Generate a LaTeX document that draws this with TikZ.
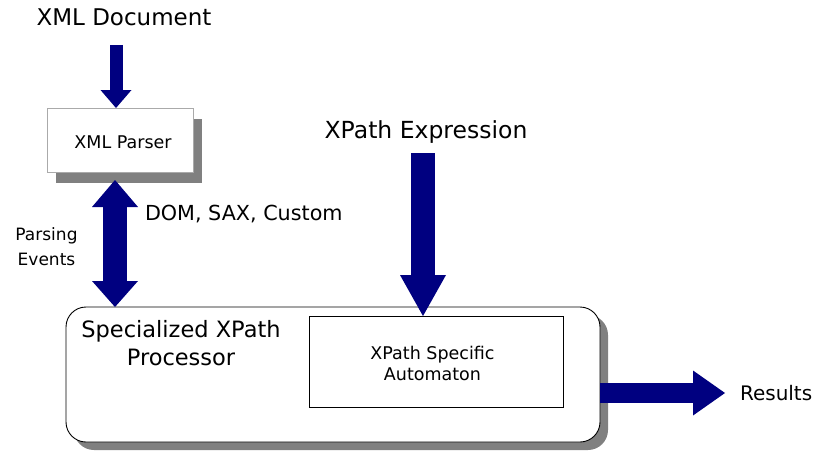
\documentclass[tikz,border=0pt]{standalone}
\usepackage{fontspec}
\setmainfont{DejaVu Sans}
\usetikzlibrary{arrows.meta}
\definecolor{navyblue}{RGB}{0,0,128}
\definecolor{shadowgray}{RGB}{128,128,128}
\definecolor{parserline}{RGB}{170,170,170}
\tikzset{
  lbl/.style={inner sep=0pt, outer sep=0pt, text=black},
  fs/.style 2 args={font={\fontsize{#1}{#2}\selectfont}},
  blockarrow/.style={draw=navyblue, line cap=butt},
  shadowbox/.style={fill=shadowgray, draw=none, inner sep=0pt, outer sep=0pt},
  plainbox/.style={fill=white, inner sep=0pt, outer sep=0pt}
}
\begin{document}
\begin{tikzpicture}[x=1pt,y=-1pt]
\useasboundingbox (0,0) rectangle (826,452);
\fill[white] (0,0) rectangle (826,452);

% XML Parser box with shadow
\node[shadowbox, minimum width=146pt, minimum height=64pt] at (129,151) {};
\node[plainbox, draw=parserline, line width=0.8pt, minimum width=146pt, minimum height=64pt] (parser) at (120,140) {};
\node[lbl, fs={17.5}{21}, anchor=base] (parsertxt) at (123,148) {XML Parser};

% Big processor box with shadow
\node[shadowbox, rounded corners=20pt, minimum width=534pt, minimum height=135pt] at (341,382.5) {};
\node[plainbox, draw=black, line width=0.9pt, rounded corners=20pt, minimum width=534pt, minimum height=135pt] (proc) at (333,374.5) {};
\node[lbl, fs={22.5}{28}, align=center, anchor=base] (proclbl) at (181,365) {Specialized XPath\\Processor};

% Inner automaton box
\node[plainbox, draw=black, line width=0.8pt, minimum width=254pt, minimum height=91pt] (auto) at (436,361.5) {};
\node[lbl, fs={17.5}{21}, align=center, anchor=base] (autotxt) at (432.5,380) {XPath Specific\\Automaton};

% Free texts
\node[lbl, fs={23}{28}, anchor=base] (doc) at (124,26) {XML Document};
\node[lbl, fs={23.5}{28}, anchor=base] (xpe) at (426,138) {XPath Expression};
\node[lbl, fs={20.7}{25}, anchor=base west] (dom) at (145,220) {DOM, SAX, Custom};
\node[lbl, fs={17}{25}, align=center, anchor=base] (events) at (46.5,265) {Parsing\\Events};
\node[lbl, fs={20}{24}, anchor=base west] (res) at (740,400) {Results};

% connector end points
\coordinate (a1s) at (116,45);
\coordinate (a2t) at (115,180);
\coordinate (a3s) at (423,153);
\coordinate (a4e) at (725,393);

% Arrows
\draw[blockarrow, line width=13pt, -{Triangle[width=31pt,length=18pt,line width=0pt]}]
  (a1s) -- (a1s |- parser.north);
\draw[blockarrow, line width=24pt,
  {Triangle[width=46pt,length=27pt,line width=0pt]}-{Triangle[width=46pt,length=26pt,line width=0pt]}]
  (a2t) -- (a2t |- proc.north);
\draw[blockarrow, line width=24pt, -{Triangle[width=46pt,length=41pt,line width=0pt]}]
  (a3s) -- (a3s |- auto.north);
\draw[blockarrow, line width=20pt, -{Triangle[width=45pt,length=32pt,line width=0pt]}]
  (a4e -| proc.east) -- (a4e);
\end{tikzpicture}
\end{document}
